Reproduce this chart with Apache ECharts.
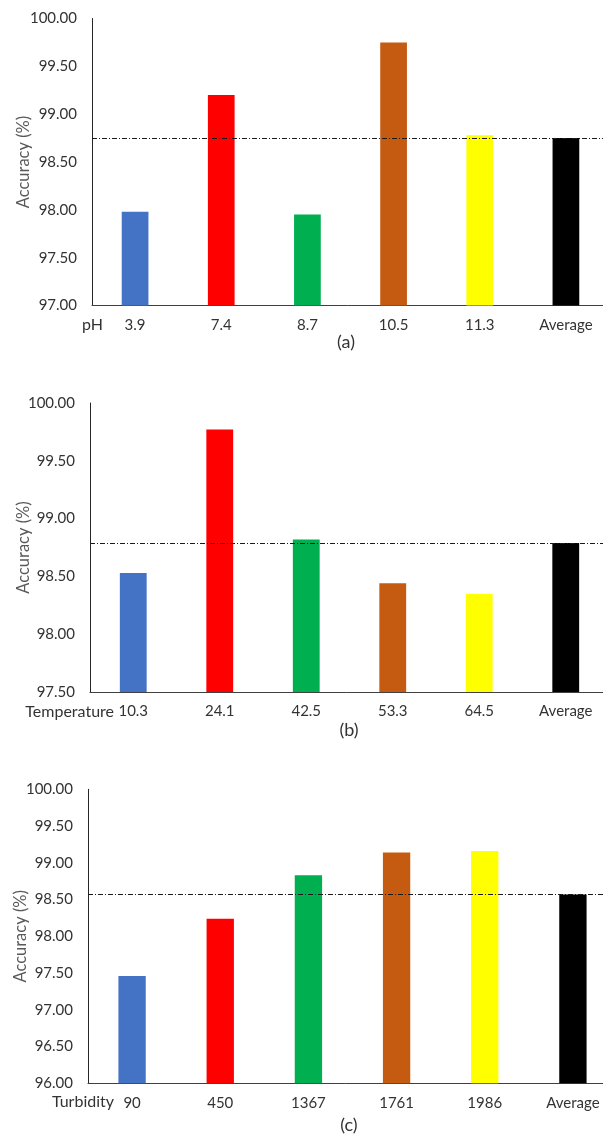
<!DOCTYPE html>
<html>
<head>
<meta charset="utf-8">
<script src="https://cdn.jsdelivr.net/npm/echarts@6/dist/echarts.min.js"></script>
<style>
html,body{margin:0;padding:0;background:#fff;}
#main{width:603px;height:1135px;}
</style>
</head>
<body>
<div id="main"></div>
<script>
// (a) pH
var phLabels = ['3.9', '7.4', '8.7', '10.5', '11.3', 'Average'];
var phValues = [97.98, 99.20, 97.95, 99.75, 98.78, 98.75];
// (b) temperature
var tempLabels = ['10.3', '24.1', '42.5', '53.3', '64.5', 'Average'];
var tempValues = [98.53, 99.77, 98.82, 98.44, 98.35, 98.79];
// (c) turbidity
var turbLabels = ['90', '450', '1367', '1761', '1986', 'Average'];
var turbValues = [97.46, 98.24, 98.83, 99.14, 99.16, 98.57];

var barColors = ['#4472c4', '#ff0000', '#00b050', '#c55a11', '#ffff00', '#000000'];
var fontFamily = 'Lato, Carlito, sans-serif';

function makeX(idx, labels) {
    return {
        type: 'category',
        gridIndex: idx,
        data: labels,
        axisLine: { lineStyle: { color: '#404040', width: 1 } },
        axisTick: { show: false },
        axisLabel: { color: '#333', fontSize: 15, fontFamily: fontFamily, margin: 12 }
    };
}

function makeY(idx, min, gap) {
    return {
        type: 'value',
        gridIndex: idx,
        min: min,
        max: 100,
        interval: 0.5,
        name: 'Accuracy (%)',
        nameLocation: 'middle',
        nameGap: gap,
        nameMoveOverlap: false,
        nameTextStyle: { color: '#595959', fontSize: 16.5, fontFamily: fontFamily },
        splitLine: { show: false },
        axisTick: { show: false },
        axisLine: { show: true, lineStyle: { color: '#262626', width: 1 } },
        axisLabel: {
            color: '#333', fontSize: 15, fontFamily: fontFamily, margin: 15,
            formatter: function (v) { return v.toFixed(2); }
        }
    };
}

function makeBars(idx, values) {
    return {
        type: 'bar',
        xAxisIndex: idx,
        yAxisIndex: idx,
        barWidth: '31%',
        data: values.map(function (v, i) {
            return { value: v, itemStyle: { color: barColors[i] } };
        }),
        markLine: {
            silent: true,
            symbol: 'none',
            label: { show: false },
            lineStyle: { color: '#1a1a1a', width: 1, type: [5, 2, 1, 2] },
            data: [{ yAxis: values[values.length - 1] }]
        }
    };
}

function label(text, x, y, size, align) {
    return {
        type: 'text', x: x, y: y,
        style: {
            text: text, fill: '#333', align: align, verticalAlign: 'middle',
            font: size + 'px ' + fontFamily
        }
    };
}

var myChart = echarts.init(document.getElementById('main'));
var option = {
    animation: false,
    backgroundColor: '#fff',
    grid: [
        { left: 92, top: 18.5, width: 517, height: 287, outerBoundsMode: 'none' },
        { left: 90, top: 403, width: 519, height: 289, outerBoundsMode: 'none' },
        { left: 88, top: 789.3, width: 529, height: 294, outerBoundsMode: 'none' }
    ],
    xAxis: [makeX(0, phLabels), makeX(1, tempLabels), makeX(2, turbLabels)],
    yAxis: [makeY(0, 97, 60), makeY(1, 97.5, 58), makeY(2, 96, 59)],
    series: [makeBars(0, phValues), makeBars(1, tempValues), makeBars(2, turbValues)],
    graphic: [
        label('pH', 103, 325, 16, 'right'),
        label('Temperature', 114, 711.5, 16, 'right'),
        label('Turbidity', 114, 1101.5, 16, 'right'),
        label('(a)', 346, 342, 18, 'center'),
        label('(b)', 349, 730, 18, 'center'),
        label('(c)', 349, 1125, 18, 'center')
    ]
};
myChart.setOption(option);
</script>
</body>
</html>
